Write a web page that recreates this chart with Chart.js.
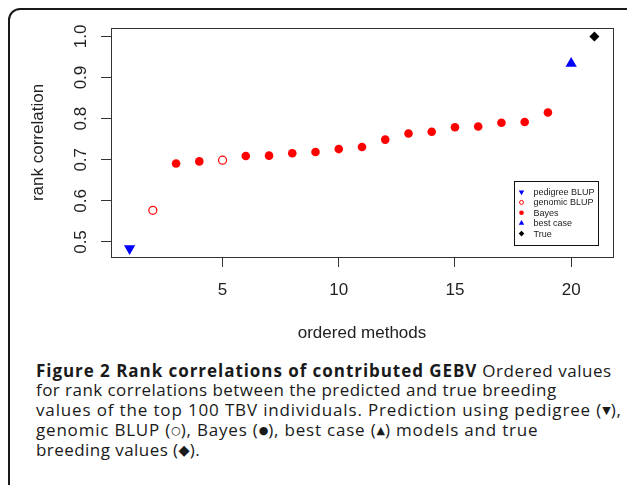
<!DOCTYPE html>
<html>
<head>
<meta charset="utf-8">
<script src="https://cdn.jsdelivr.net/npm/chart.js@4.4.0/dist/chart.umd.min.js"></script>
<style>
  html, body { margin: 0; padding: 0; background: #fff; width: 627px; height: 485px; overflow: hidden; }
  .frame { position: absolute; left: 8px; top: 8px; width: 640px; height: 520px; border: 2px solid #1a1a1a; border-radius: 12px; box-sizing: border-box; }
  .plot { position: absolute; left: 0; top: 0; width: 627px; height: 345px; }
  .caption { position: absolute; left: 36px; top: 361px; font-family: "Open Sans", sans-serif; font-size: 17px; letter-spacing: 0.45px; line-height: 19.3px; color: #1a1a1a; white-space: nowrap; }
  .caption b { font-weight: 700; letter-spacing: 0.95px; }
  .l1 { letter-spacing: 0.55px; }
  .l3 { letter-spacing: 0.85px; }
  .l4 { letter-spacing: 0.8px; }
  .sym { font-size: 0.65em; vertical-align: 0.2em; font-family: "DejaVu Sans", sans-serif; letter-spacing: 0; }
</style>
</head>
<body>
<div class="frame"></div>
<div class="plot"><canvas id="chart" width="627" height="345" style="width:627px;height:345px"></canvas></div>
<div class="caption">
  <span class="l1"><b>Figure 2 Rank correlations of contributed GEBV</b> Ordered values</span><br>
  <span class="l2">for rank correlations between the predicted and true breeding</span><br>
  <span class="l3">values of the top 100 TBV individuals. Prediction using pedigree (<span class="sym">▼</span>),</span><br>
  <span class="l4">genomic BLUP (<span class="sym">○</span>), Bayes (<span class="sym">●</span>), best case (<span class="sym">▲</span>) models and true</span><br>
  <span>breeding values (<span class="sym" style="font-size:0.85em;vertical-align:0.05em">◆</span>).</span>
</div>
<script>
// data
const methodRank = [1, 2, 3, 4, 5, 6, 7, 8, 9, 10, 11, 12, 13, 14, 15, 16, 17, 18, 19, 20, 21];
const rankCorr = [0.484, 0.577, 0.691, 0.696, 0.699, 0.709, 0.710, 0.716, 0.719, 0.726, 0.731,
                  0.749, 0.764, 0.768, 0.779, 0.781, 0.790, 0.792, 0.815, 0.934, 1.000];
const methodType = ['pedigree', 'genomic', 'bayes', 'bayes', 'genomic', 'bayes', 'bayes', 'bayes',
                    'bayes', 'bayes', 'bayes', 'bayes', 'bayes', 'bayes', 'bayes', 'bayes', 'bayes',
                    'bayes', 'bayes', 'best', 'true'];
const seriesKeys = ['pedigree', 'genomic', 'bayes', 'best', 'true'];
const seriesNames = ['pedigree BLUP', 'genomic BLUP', 'Bayes', 'best case', 'True'];
const xTickValues = [5, 10, 15, 20];
const yTickValues = [0.5, 0.6, 0.7, 0.8, 0.9, 1.0];

const FONT = "'Liberation Sans', Arial, Helvetica, sans-serif";
const INK = '#222';

const seriesStyle = {
  pedigree: { pointStyle: 'triangle', rotation: 180, color: '#0000ff', filled: true, radius: 6.5, legendRadius: 3.2 },
  genomic:  { pointStyle: 'circle', rotation: 0, color: '#ff0000', filled: false, radius: 4, legendRadius: 2 },
  bayes:    { pointStyle: 'circle', rotation: 0, color: '#ff0000', filled: true, radius: 4.3, legendRadius: 2.3 },
  best:     { pointStyle: 'triangle', rotation: 0, color: '#0000ff', filled: true, radius: 6.5, legendRadius: 3.2 },
  true:     { pointStyle: 'rectRot', rotation: 0, color: '#000000', filled: true, radius: 5, legendRadius: 2.8 }
};

const datasets = seriesKeys.map((key, i) => {
  const st = seriesStyle[key];
  return {
    label: seriesNames[i],
    data: methodRank.map((x, j) => ({ x: x, y: rankCorr[j] })).filter((p, j) => methodType[j] === key),
    pointStyle: st.pointStyle,
    rotation: st.rotation,
    pointRadius: st.radius,
    pointBackgroundColor: st.filled ? st.color : 'rgba(0,0,0,0)',
    pointBorderColor: st.color,
    pointBorderWidth: st.filled ? 0 : 1.2,
    showLine: false
  };
});

// plot frame + legend box in the bottom right, like R's legend("bottomright")
const boxAndLegend = {
  id: 'boxAndLegend',
  afterDatasetsDraw(chart) {
    const { ctx, chartArea: a } = chart;
    ctx.save();
    ctx.strokeStyle = '#333';
    ctx.lineWidth = 1;
    ctx.strokeRect(Math.round(a.left) + 0.5, Math.round(a.top) + 0.5,
                   Math.round(a.right - a.left), Math.round(a.bottom - a.top));

    const w = 83.5, h = 63.5;
    const x0 = a.right - 16 - w, y0 = a.bottom - 12.5 - h;
    ctx.fillStyle = '#fff';
    ctx.fillRect(x0, y0, w, h);
    ctx.strokeStyle = '#111';
    ctx.strokeRect(Math.round(x0) + 0.5, Math.round(y0) + 0.5, Math.round(w), Math.round(h));

    ctx.font = '9px ' + FONT;
    ctx.textBaseline = 'middle';
    ctx.textAlign = 'left';
    seriesKeys.forEach((key, i) => {
      const st = seriesStyle[key];
      const y = y0 + 11 + i * 10.4;
      ctx.fillStyle = st.filled ? st.color : '#fff';
      ctx.strokeStyle = st.color;
      Chart.helpers.drawPoint(ctx, {
        pointStyle: st.pointStyle, rotation: st.rotation,
        radius: st.legendRadius, borderWidth: st.filled ? 0 : 1.1
      }, x0 + 8, y);
      ctx.fillStyle = INK;
      ctx.fillText(seriesNames[i], x0 + 20, y + 0.5);
    });
    ctx.restore();
  }
};

new Chart(document.getElementById('chart'), {
  type: 'scatter',
  data: { datasets: datasets },
  options: {
    responsive: false,
    animation: false,
    events: [],
    layout: { padding: { top: 28, right: 14, left: 0, bottom: 0 } },
    plugins: { legend: { display: false }, tooltip: { enabled: false } },
    scales: {
      x: {
        type: 'linear',
        min: 0.2,
        max: 21.8,
        afterBuildTicks: s => { s.ticks = xTickValues.map(v => ({ value: v })); },
        afterFit: s => { s.height = 88; },
        grid: { drawOnChartArea: false, drawTicks: true, tickLength: 10, tickColor: '#333', tickWidth: 1 },
        border: { display: false },
        ticks: { color: INK, font: { family: FONT, size: 17 }, padding: 13, maxRotation: 0, autoSkip: false },
        title: { display: true, text: 'ordered methods', color: INK, font: { family: FONT, size: 17 }, padding: { top: 0, bottom: 1 } }
      },
      y: {
        type: 'linear',
        min: 0.4635,
        max: 1.0205,
        afterBuildTicks: s => { s.ticks = yTickValues.map(v => ({ value: v })); },
        afterFit: s => { s.width = 111; },
        grid: { drawOnChartArea: false, drawTicks: true, tickLength: 10, tickColor: '#333', tickWidth: 1 },
        border: { display: false },
        ticks: {
          color: INK, font: { family: FONT, size: 17 }, padding: 8,
          minRotation: 90, maxRotation: 90, crossAlign: 'center',
          callback: v => v.toFixed(1)
        },
        title: { display: true, text: 'rank correlation', color: INK, font: { family: FONT, size: 17 }, padding: { top: 28, bottom: 0 } }
      }
    }
  },
  plugins: [boxAndLegend]
});
</script>
</body>
</html>
